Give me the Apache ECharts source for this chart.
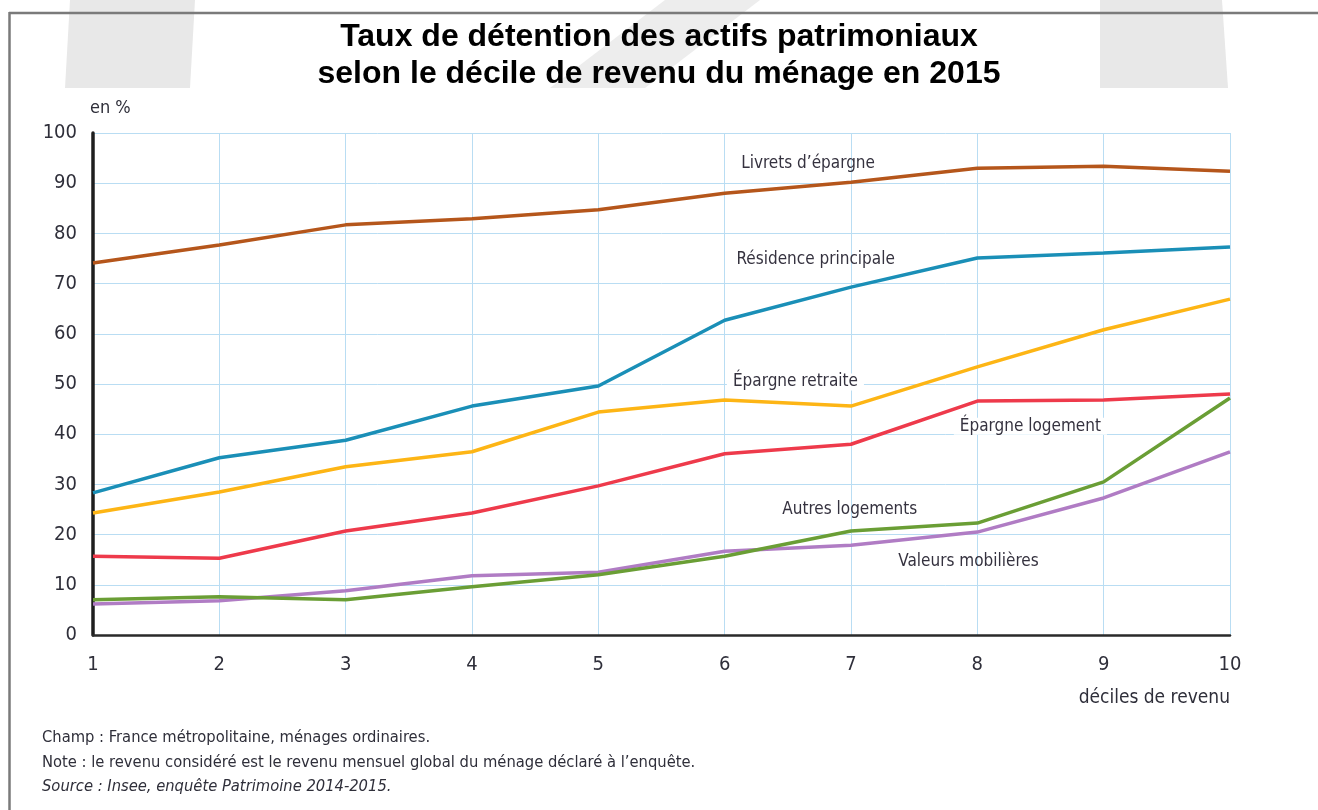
<!DOCTYPE html>
<html>
<head>
<meta charset="utf-8">
<script src="https://cdn.jsdelivr.net/npm/echarts@6/dist/echarts.min.js"></script>
<style>
html,body{margin:0;padding:0;background:#fff;}
#c{width:1318px;height:810px;}
</style>
</head>
<body>
<div id="c"></div>
<script>
const deciles = [1,2,3,4,5,6,7,8,9,10];
const yTicks = [0,10,20,30,40,50,60,70,80,90,100];
const livrets = [74.1,77.7,81.7,82.9,84.7,88.0,90.2,93.0,93.4,92.4];
const residence = [28.3,35.3,38.8,45.6,49.6,62.7,69.3,75.1,76.1,77.3];
const retraite = [24.3,28.5,33.5,36.5,44.4,46.8,45.6,53.4,60.8,66.9];
const logementEp = [15.7,15.3,20.7,24.3,29.7,36.1,38.0,46.6,46.8,48.0];
const autresLog = [7.0,7.6,7.0,9.6,12.0,15.7,20.7,22.3,30.5,47.2];
const valeurs = [6.2,6.8,8.8,11.8,12.5,16.7,17.9,20.5,27.3,36.5];
const seriesNames = ["Livrets d\u2019épargne","Résidence principale","Épargne retraite","Épargne logement","Autres logements","Valeurs mobilières"];
const labelPos = [[6.66,94.0],[6.72,74.7],[6.56,50.4],[8.42,41.6],[6.99,24.9],[7.93,14.7]];
const labelBg = [false,false,true,true,false,false];

const NARROW = '"Liberation Sans Narrow","DejaVu Sans Condensed","Roboto Condensed",sans-serif';
const colors = ['#B5561B','#1A8FB7','#FDB515','#EE3A4B','#6A9E35','#B07CC4'];
const allData = [livrets,residence,retraite,logementEp,autresLog,valeurs];

const chart = echarts.init(document.getElementById('c'), null, {renderer:'canvas'});
const series = allData.map((vals,i)=>({
  name: seriesNames[i],
  type:'line',
  data: deciles.map((d,j)=>[d,vals[j]]),
  symbol:'none',
  lineStyle:{color:colors[i],width:3.5},
  itemStyle:{color:colors[i]},
  z: 10-i,
  markPoint:{
    symbol:'rect', symbolSize:0, silent:true,
    data:[{coord:labelPos[i], value:seriesNames[i]}],
    label:{show:true, position:'inside', formatter:seriesNames[i],
      fontFamily:NARROW, fontSize:17, color:'#35323f',
      backgroundColor: labelBg[i] ? '#ffffff' : 'transparent',
      padding: labelBg[i] ? [0,6] : 0}
  }
}));

chart.setOption({
  animation:false,
  backgroundColor:'#ffffff',
  grid:{left:93,right:88,top:133,bottom:175},
  xAxis:{
    type:'value', min:1, max:10, interval:1,
    axisLine:{show:true,onZero:false,lineStyle:{color:'#2a2a2a',width:2.5}},
    axisTick:{show:false},
    axisLabel:{margin:20,fontFamily:NARROW,fontSize:20,color:'#2f2f3a'},
    splitLine:{show:true,lineStyle:{color:'#B9DDF3',width:1}}
  },
  yAxis:{
    type:'value', min:0, max:100, interval:10,
    axisLine:{show:true,lineStyle:{color:'#1e1e1e',width:3.5}},
    axisTick:{show:false},
    axisLabel:{margin:16,fontFamily:NARROW,fontSize:20,color:'#2f2f3a',
      formatter:(v)=>yTicks.includes(v)?String(v):''},
    splitLine:{show:true,lineStyle:{color:'#B9DDF3',width:1}}
  },
  graphic:[
    {type:'polygon',z:-10,silent:true,shape:{points:[[70,0],[195,0],[190,88],[65,88]]},style:{fill:'#E8E8E8'}},
    {type:'polygon',z:-10,silent:true,shape:{points:[[665,0],[760,0],[645,88],[550,88]]},style:{fill:'#EDEDED'}},
    {type:'polygon',z:-10,silent:true,shape:{points:[[1100,0],[1222,0],[1228,88],[1100,88]]},style:{fill:'#E8E8E8'}},
    {type:'line',z:5,silent:true,shape:{x1:9,y1:13,x2:1318,y2:13},style:{stroke:'#7a7a7a',lineWidth:2.5}},
    {type:'line',z:5,silent:true,shape:{x1:9.5,y1:12,x2:9.5,y2:810},style:{stroke:'#7a7a7a',lineWidth:2.5}},
    {type:'text',z:20,left:'center',top:19,style:{text:'Taux de détention des actifs patrimoniaux\nselon le décile de revenu du ménage en 2015',
      fontFamily:'"Liberation Sans",Arial,sans-serif',fontWeight:'bold',fontSize:32,lineHeight:37,fill:'#000',textAlign:'center'}},
    {type:'text',z:20,left:90,top:99,style:{text:'en %',fontFamily:NARROW,fontSize:18,fill:'#2f2f3a'}},
    {type:'text',z:20,right:88,top:689,style:{text:'déciles de revenu',fontFamily:NARROW,fontSize:19,fill:'#2f2f3a'}},
    {type:'text',z:20,left:42,top:730,style:{text:'Champ : France métropolitaine, ménages ordinaires.',fontFamily:NARROW,fontSize:16.4,fill:'#2f2f3a'}},
    {type:'text',z:20,left:42,top:755,style:{text:'Note : le revenu considéré est le revenu mensuel global du ménage déclaré à l\u2019enquête.',fontFamily:NARROW,fontSize:16.4,fill:'#2f2f3a'}},
    {type:'text',z:20,left:42,top:779,style:{text:'Source : Insee, enquête Patrimoine 2014-2015.',fontFamily:NARROW,fontSize:16.4,fontStyle:'italic',fill:'#2f2f3a'}}
  ],
  series: series
});
</script>
</body>
</html>
